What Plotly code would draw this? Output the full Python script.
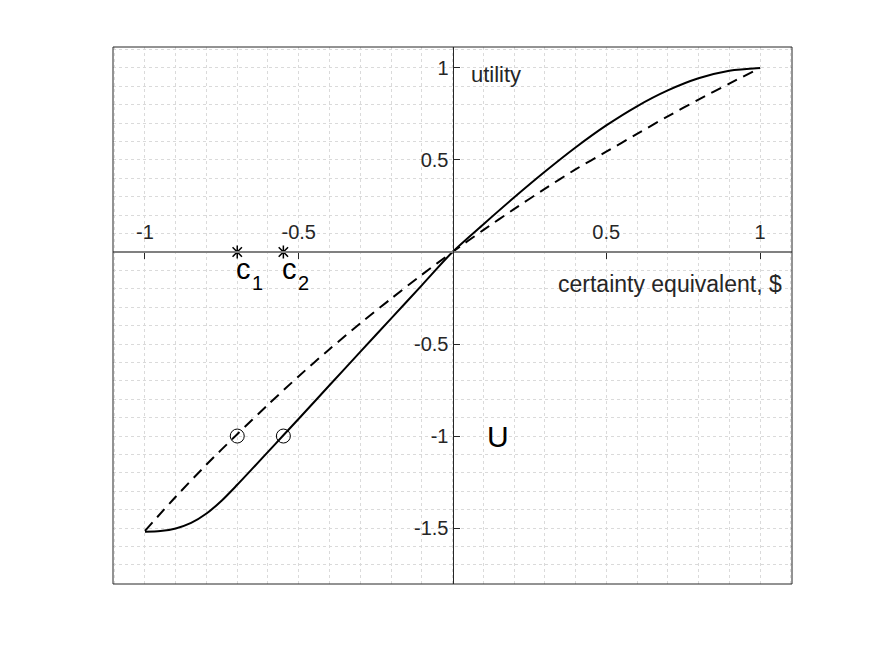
import plotly.graph_objects as go

# ---- data ----
x_solid = [-1.0, -0.95, -0.9, -0.85, -0.8, -0.75, -0.7, -0.65, -0.6, -0.55, -0.5,
           -0.4, -0.3, -0.2, -0.1, 0.0, 0.1, 0.2, 0.3, 0.4, 0.5, 0.6, 0.7, 0.8, 0.9, 1.0]
y_solid = [-1.52, -1.516, -1.502, -1.472, -1.421, -1.35, -1.265, -1.176, -1.086, -0.996, -0.906,
           -0.724, -0.543, -0.362, -0.181, 0.0, 0.15, 0.296, 0.436, 0.568, 0.688, 0.792, 0.878, 0.944, 0.985, 1.0]

x_dashed = [-1.0, -0.9, -0.8, -0.7, -0.6, -0.5, -0.4, -0.3, -0.2, -0.1, 0.0,
            0.1, 0.2, 0.3, 0.4, 0.5, 0.6, 0.7, 0.8, 0.9, 1.0]
y_dashed = [-1.515, -1.33, -1.155, -0.99, -0.83, -0.675, -0.528, -0.388, -0.254, -0.124, 0.0,
            0.119, 0.233, 0.343, 0.449, 0.545, 0.642, 0.737, 0.828, 0.915, 1.0]

c_values = [-0.7, -0.55]        # certainty equivalents c1, c2
c_names = ["1", "2"]
u_at_c = [-1.0, -1.0]           # utility level marked by circles

x_tick_vals = [-1, -0.5, 0.5, 1]
x_tick_text = ["-1", "-0.5", "0.5", "1"]
y_tick_vals = [-1.5, -1, -0.5, 0.5, 1]
y_tick_text = ["-1.5", "-1", "-0.5", "0.5", "1"]

x_range = [-1.104, 1.104]
y_range = [-1.804, 1.114]

FONT = "Liberation Sans, Arial, Helvetica, sans-serif"
TXT = "#262626"
GRID = "#dadada"

fig = go.Figure()
fig.add_trace(go.Scatter(x=x_dashed, y=y_dashed, mode="lines",
                         line=dict(color="black", width=2, dash="11px,7px", shape="spline", smoothing=0.8),
                         showlegend=False, hoverinfo="skip"))
fig.add_trace(go.Scatter(x=x_solid, y=y_solid, mode="lines",
                         line=dict(color="black", width=2, shape="spline", smoothing=0.8),
                         showlegend=False, hoverinfo="skip"))
fig.add_trace(go.Scatter(x=c_values, y=u_at_c, mode="markers",
                         marker=dict(symbol="circle-open", size=14, color="black", line=dict(width=1)),
                         showlegend=False, hoverinfo="skip"))
fig.add_trace(go.Scatter(x=c_values, y=[0] * len(c_values), mode="markers",
                         marker=dict(symbol="asterisk-open", size=11, color="black", line=dict(width=1.5)),
                         showlegend=False, hoverinfo="skip"))

x_pos = (0 - y_range[0]) / (y_range[1] - y_range[0])
y_pos = (0 - x_range[0]) / (x_range[1] - x_range[0])

fig.update_layout(
    width=875, height=657,
    margin=dict(l=113, r=83, t=47, b=73),
    paper_bgcolor="white", plot_bgcolor="white",
    font=dict(family=FONT, color=TXT),
    xaxis=dict(range=x_range, anchor="free", position=x_pos, side="top",
               tickvals=x_tick_vals, ticktext=x_tick_text, ticks="inside", ticklen=6,
               tickcolor=TXT, tickfont=dict(size=20, color=TXT), ticklabelstandoff=4,
               showline=True, linecolor="#808080", linewidth=2,
               showgrid=True, gridcolor=GRID, griddash="dot", gridwidth=1,
               zeroline=False,
               minor=dict(dtick=0.1, tick0=0, showgrid=True, gridcolor=GRID,
                          griddash="dot", gridwidth=1, ticks="")),
    yaxis=dict(range=y_range, anchor="free", position=y_pos, side="left",
               tickvals=y_tick_vals, ticktext=y_tick_text, ticks="inside", ticklen=6,
               tickcolor=TXT, tickfont=dict(size=20, color=TXT),
               showline=True, linecolor=TXT, linewidth=1,
               showgrid=True, gridcolor=GRID, griddash="dot", gridwidth=1,
               zeroline=False,
               minor=dict(dtick=0.1, tick0=0, showgrid=True, gridcolor=GRID,
                          griddash="dot", gridwidth=1, ticks="")),
    shapes=[dict(type="rect", xref="paper", yref="paper", x0=0, x1=1, y0=0, y1=1,
                 line=dict(color=TXT, width=1))],
)

ann = [
    dict(x=0.054, y=0.967, text="utility", xanchor="left", yanchor="middle",
         font=dict(size=22, color=TXT)),
    dict(x=1.078, y=-0.174, text="certainty equivalent, $", xanchor="right", yanchor="middle",
         font=dict(size=23, color=TXT)),
    dict(x=0.106, y=-1.005, text="U", xanchor="left", yanchor="middle",
         font=dict(size=30, color="black")),
]
for cv, nm in zip(c_values, c_names):
    ann.append(dict(x=cv, y=0, text="c", xanchor="left", yanchor="middle",
                    xshift=-3, yshift=-17, font=dict(size=29, color="black")))
    ann.append(dict(x=cv, y=0, text=nm, xanchor="left", yanchor="middle",
                    xshift=13, yshift=-31, font=dict(size=20, color="black")))
for a in ann:
    a.update(showarrow=False, xref="x", yref="y")
fig.update_layout(annotations=ann)

fig.write_html("out.html")
